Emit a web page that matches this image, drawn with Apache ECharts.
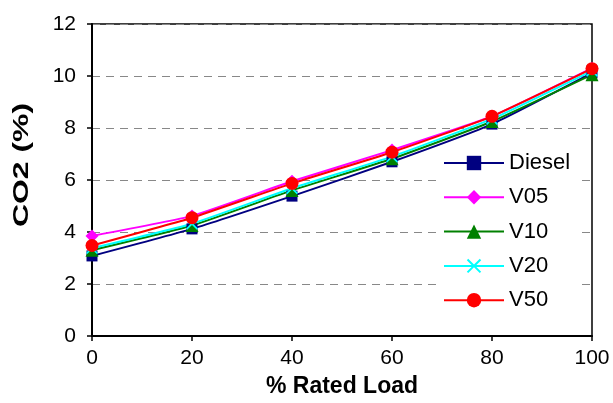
<!DOCTYPE html>
<html>
<head>
<meta charset="utf-8">
<script src="https://cdn.jsdelivr.net/npm/echarts@6/dist/echarts.min.js"></script>
<style>html,body{margin:0;padding:0;background:#fff}#c{width:613px;height:403px}</style>
</head>
<body>
<div id="c"></div>
<script>
const loads = [0, 20, 40, 60, 80, 100];
const diesel = [3.08, 4.12, 5.38, 6.7, 8.15, 10.12];
const v05 = [3.85, 4.62, 5.95, 7.15, 8.45, 10.3];
const v10 = [3.3, 4.25, 5.6, 6.82, 8.25, 10.05];
const v20 = [3.38, 4.32, 5.68, 6.9, 8.35, 10.2];
const v50 = [3.48, 4.55, 5.87, 7.07, 8.45, 10.28];
const seriesNames = ['Diesel', 'V05', 'V10', 'V20', 'V50'];
const xTitle = '% Rated Load';
const yTitle = 'CO2 (%)';

const FONT = '"Liberation Sans", Arial, sans-serif';
const xPath = 'path://M0 1 L1 0 L5 4 L9 0 L10 1 L6 5 L10 9 L9 10 L5 6 L1 10 L0 9 L4 5 Z';

function mk(name, vals, color, symbol, size) {
  return {
    name: name, type: 'line', smooth: 0.15,
    data: loads.map((x, i) => [x, vals[i]]),
    symbol: symbol, symbolSize: size,
    lineStyle: { color: color, width: 2 },
    itemStyle: { color: color },
    z: 3
  };
}

const chart = echarts.init(document.getElementById('c'));
chart.setOption({
  animation: false,
  backgroundColor: '#fff',
  grid: { left: 92, right: 21, top: 24, bottom: 64, show: true, borderColor: '#000', borderWidth: 1.5 },
  graphic: [{
    type: 'text', x: 22, y: 165, rotation: Math.PI / 2, scaleX: 1.45,
    style: { text: yTitle, font: 'bold 22px "Liberation Sans", Arial, sans-serif', fill: '#000',
      textAlign: 'center', textVerticalAlign: 'middle' }
  }],
  xAxis: {
    type: 'value', min: 0, max: 100, interval: 20,
    name: xTitle, nameLocation: 'middle', nameGap: 39,
    nameTextStyle: { fontFamily: FONT, fontSize: 23, fontWeight: 'bold', color: '#000' },
    axisLine: { lineStyle: { color: '#000', width: 2 } },
    axisTick: { show: true, length: 5, lineStyle: { color: '#000', width: 1.5 } },
    axisLabel: { fontFamily: FONT, fontSize: 21, color: '#000', margin: 12 },
    splitLine: { show: false }
  },
  yAxis: {
    type: 'value', min: 0, max: 12, interval: 2,
    axisLine: { show: true, lineStyle: { color: '#000', width: 2 } },
    axisTick: { show: true, length: 5, lineStyle: { color: '#000', width: 1.5 } },
    axisLabel: { fontFamily: FONT, fontSize: 21, color: '#000', margin: 16 },
    splitLine: { show: true, lineStyle: { color: '#888', type: [8, 6], width: 1.2 } }
  },
  legend: {
    orient: 'vertical', left: 437, top: 148,
    backgroundColor: '#fff', padding: [4, 6, 4, 6],
    itemWidth: 60, itemHeight: 18, itemGap: 12.3,
    textStyle: { fontFamily: FONT, fontSize: 22, color: '#000', lineHeight: 22 },
    data: seriesNames
  },
  series: [
    mk('Diesel', diesel, '#000080', 'rect', 11),
    mk('V05', v05, '#FF00FF', 'diamond', 13),
    mk('V10', v10, '#008000', 'triangle', 13),
    mk('V20', v20, '#00FFFF', xPath, 12),
    mk('V50', v50, '#FF0000', 'circle', 13)
  ]
});
</script>
</body>
</html>
